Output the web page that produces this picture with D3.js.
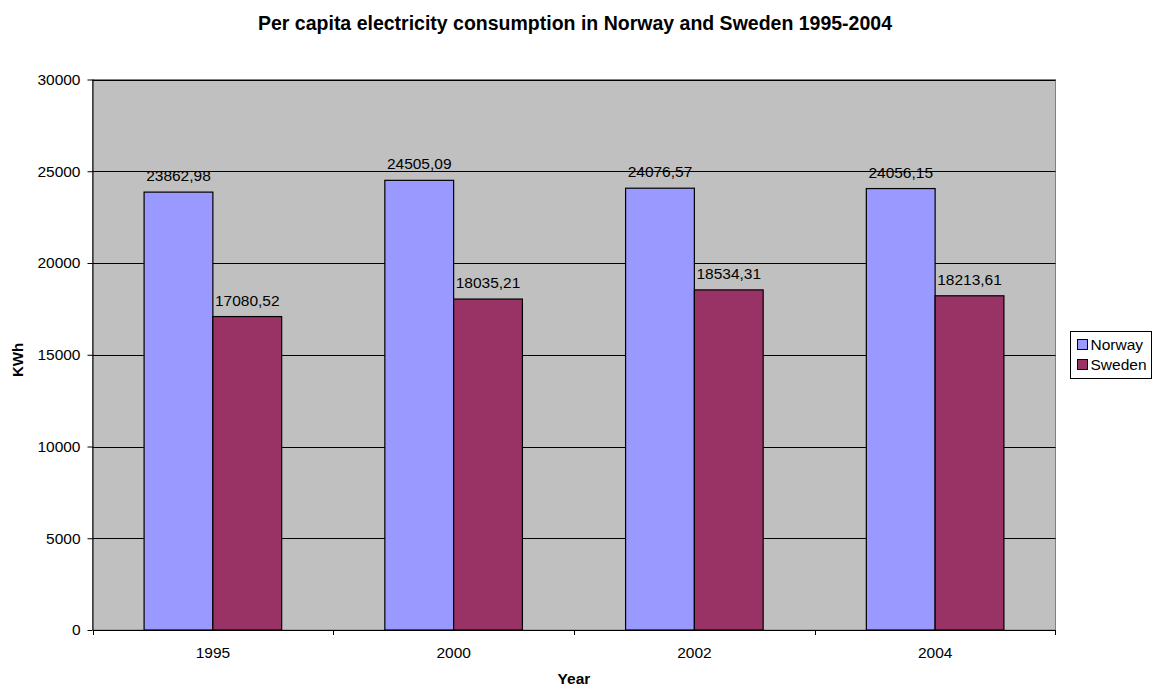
<!DOCTYPE html>
<html>
<head>
<meta charset="utf-8">
<script src="https://cdn.jsdelivr.net/npm/d3@7"></script>
<style>
  html, body { margin: 0; padding: 0; background: #fff; }
  svg { display: block; font-family: "Liberation Sans", Arial, sans-serif; }
</style>
</head>
<body>
<svg id="chart" width="1153" height="686"></svg>
<script>
// Per capita electricity consumption (kWh)
const years = ["1995", "2000", "2002", "2004"];
const seriesNames = ["Norway", "Sweden"];
const norway = [23862.98, 24505.09, 24076.57, 24056.15];
const sweden = [17080.52, 18035.21, 18534.31, 18213.61];
const yTicks = [0, 5000, 10000, 15000, 20000, 25000, 30000];
const seriesColors = ["#9999FF", "#993366"];

const svg = d3.select("#chart");
const plot = { left: 92.5, right: 1055.5, top: 79.5, bottom: 630 };

const x = d3.scaleBand().domain(years).range([plot.left, plot.right]).paddingInner(0).paddingOuter(0);
const inner = d3.scaleBand().domain(seriesNames).range([0, x.bandwidth()]).paddingInner(0).paddingOuter(0.75);
const y = d3.scaleLinear().domain([0, 30000]).range([plot.bottom, plot.top]);

const fmt = v => d3.format(".2f")(v).replace(".", ",");

// Plot background
svg.append("rect")
  .attr("x", plot.left).attr("y", plot.top)
  .attr("width", plot.right - plot.left).attr("height", plot.bottom - plot.top)
  .attr("fill", "#C0C0C0").attr("stroke", "#808080").attr("stroke-width", 1);

// Horizontal gridlines
svg.append("g")
  .selectAll("line")
  .data(yTicks.filter(d => d > 0))
  .join("line")
  .attr("x1", plot.left).attr("x2", plot.right)
  .attr("y1", d => Math.round(y(d)) + 0.5).attr("y2", d => Math.round(y(d)) + 0.5)
  .attr("stroke", "#000").attr("stroke-width", 1);

// Bars
const rows = years.map((yr, i) => ({ year: yr, values: [norway[i], sweden[i]] }));
const groups = svg.append("g").selectAll("g")
  .data(rows).join("g")
  .attr("transform", d => `translate(${x(d.year)},0)`);

groups.selectAll("rect")
  .data(d => d.values.map((v, j) => ({ name: seriesNames[j], value: v, color: seriesColors[j] })))
  .join("rect")
  .attr("x", d => inner(d.name))
  .attr("y", d => y(d.value))
  .attr("width", inner.bandwidth())
  .attr("height", d => y(0) - y(d.value))
  .attr("fill", d => d.color)
  .attr("stroke", "#000").attr("stroke-width", 1.2);

// Value labels
groups.selectAll("text")
  .data(d => d.values.map((v, j) => ({ name: seriesNames[j], value: v })))
  .join("text")
  .attr("x", d => inner(d.name) + inner.bandwidth() / 2)
  .attr("y", d => y(d.value) - 11)
  .attr("text-anchor", "middle")
  .attr("font-size", 15.5)
  .attr("fill", "#000")
  .text(d => fmt(d.value));

// Y axis
const yAxis = svg.append("g")
  .attr("transform", `translate(${plot.left},0)`)
  .call(d3.axisLeft(y).tickValues(yTicks).tickSize(5).tickPadding(7).tickFormat(d3.format("d")));
yAxis.select(".domain").attr("stroke", "#000").attr("d", `M0.5,${plot.top}V${plot.bottom}`);
yAxis.selectAll(".tick line").attr("stroke", "#000");
yAxis.selectAll(".tick text").attr("font-size", 15.5).attr("font-family", "'Liberation Sans', Arial, sans-serif").attr("fill", "#000");

// X axis
const xAxis = svg.append("g")
  .attr("transform", `translate(0,${plot.bottom})`)
  .call(d3.axisBottom(x).tickSize(0).tickPadding(17));
xAxis.select(".domain").attr("stroke", "#000");
xAxis.selectAll(".tick text").attr("font-size", 15.5).attr("font-family", "'Liberation Sans', Arial, sans-serif").attr("fill", "#000");

// Category separator ticks
svg.append("g").selectAll("line")
  .data(years.concat(["end"]))
  .join("line")
  .attr("x1", (d, i) => i < years.length ? Math.round(x(d)) + 0.5 : plot.right)
  .attr("x2", (d, i) => i < years.length ? Math.round(x(d)) + 0.5 : plot.right)
  .attr("y1", plot.bottom).attr("y2", plot.bottom + 5)
  .attr("stroke", "#000");

// Title
svg.append("text")
  .attr("x", 575).attr("y", 30)
  .attr("text-anchor", "middle")
  .attr("font-size", 19.5).attr("font-weight", "bold")
  .text("Per capita electricity consumption in Norway and Sweden 1995-2004");

// Axis titles
svg.append("text")
  .attr("x", (plot.left + plot.right) / 2).attr("y", 684)
  .attr("text-anchor", "middle")
  .attr("font-size", 15.5).attr("font-weight", "bold")
  .text("Year");

svg.append("text")
  .attr("transform", `translate(23,360) rotate(-90)`)
  .attr("text-anchor", "middle")
  .attr("font-size", 15).attr("font-weight", "bold")
  .text("KWh");

// Legend
const legend = svg.append("g").attr("transform", "translate(1070.5,331.5)");
legend.append("rect")
  .attr("width", 81).attr("height", 47)
  .attr("fill", "#fff").attr("stroke", "#000");
const items = legend.selectAll("g.item")
  .data(seriesNames)
  .join("g").attr("class", "item")
  .attr("transform", (d, i) => `translate(7,${8 + i * 20})`);
items.append("rect")
  .attr("width", 10).attr("height", 10)
  .attr("fill", (d, i) => seriesColors[i]).attr("stroke", "#000");
items.append("text")
  .attr("x", 13).attr("y", 10.5)
  .attr("font-size", 15.5)
  .text(d => d);
</script>
</body>
</html>
